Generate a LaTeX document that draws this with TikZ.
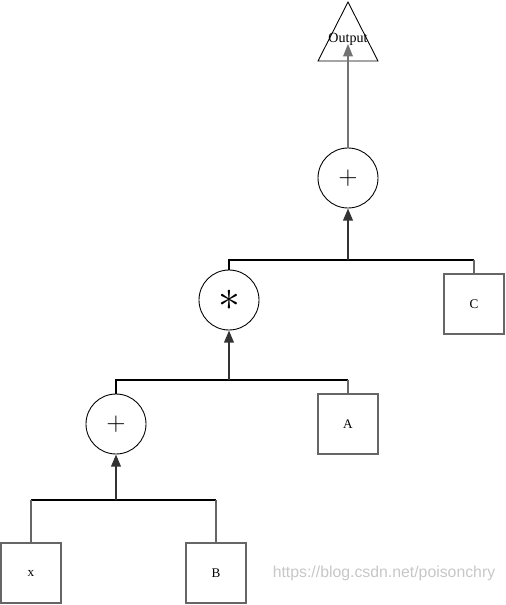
\documentclass[tikz,border=0pt]{standalone}
\usepackage{fontspec}
\setmainfont{Liberation Serif}
\newfontfamily\markfont{Liberation Sans}
\usetikzlibrary{arrows.meta}
\tikzset{
  opnode/.style={draw,circle,minimum size=1.2cm,inner sep=0pt,line width=0.5pt},
  leafnode/.style={draw=black!60,rectangle,minimum size=1.2cm,inner sep=0pt,line width=0.9pt,font=\fontsize{7.5}{9}\selectfont},
  link/.style={line width=0.6pt},
  drop/.style={draw=black!60,line width=0.8pt},
  flow/.style={draw=black!80,line width=1.2pt,-{Triangle[length=7pt,width=5.5pt]}},
  thinflow/.style={draw=black!55,line width=0.6pt,-{Triangle[length=7pt,width=5.5pt]}}
}
\begin{document}
\begin{tikzpicture}[x=0.02cm,y=-0.02cm]
    \useasboundingbox (0,0) rectangle (505,605);
    % output triangle
    \draw[line width=0.5pt] (348,2) -- (378,61) -- (318,61) -- cycle;
    \node[inner sep=0pt,font=\fontsize{8}{9}\selectfont] (out) at (348,39) {Output};
    % operators
    \node[opnode] (addtop) at (348,178) {\Large$+$};
    \node[opnode] (mul) at (229,300) {\Huge$\ast$};
    \node[opnode] (addlow) at (116,424) {\Large$+$};
    % leaves
    \node[leafnode] (C) at (474,304) {C};
    \node[leafnode] (A) at (348,424) {A};
    \node[leafnode] (x) at (31,573) {x};
    \node[leafnode] (B) at (216,573) {B};
    % junctions
    \coordinate (jtop) at (348,260);
    \coordinate (jmid) at (229,380);
    \coordinate (jlow) at (116,500);
    % connectors
    \draw[link] (mul.north) |- (jtop) -- (jtop -| C.north);
    \draw[drop] (jtop -| C.north) -- (C.north);
    \draw[link] (addlow.north) |- (jmid) -- (jmid -| A.north);
    \draw[drop] (jmid -| A.north) -- (A.north);
    \draw[link] (jlow -| x.north) -- (jlow -| B.north);
    \draw[drop] (jlow -| x.north) -- (x.north);
    \draw[drop] (jlow -| B.north) -- (B.north);
    \draw[flow] (jtop) -- (addtop.south);
    \draw[flow] (jmid) -- (mul.south);
    \draw[flow] (jlow) -- (addlow.south);
    \draw[thinflow] (addtop.north) -- (348,44);
    % watermark
    \node[text=black!22,font=\markfont\fontsize{9}{11}\selectfont,inner sep=0pt] (mark) at (384,573) {https://blog.csdn.net/poisonchry};
\end{tikzpicture}
\end{document}
